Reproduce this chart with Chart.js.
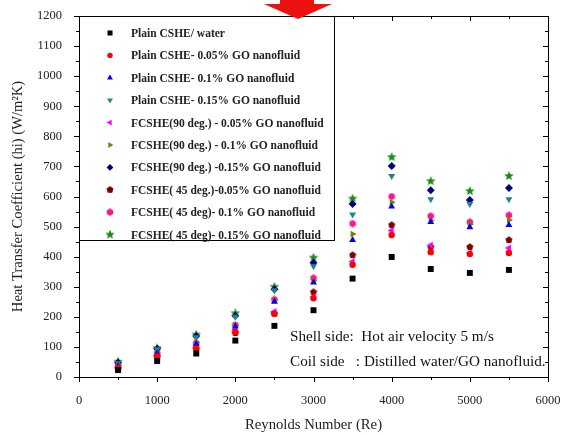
<!DOCTYPE html>
<html lang="en">
<head>
  <meta charset="UTF-8" />
  <title>Heat Transfer Coefficient vs Reynolds Number</title>
  <script src="https://cdn.jsdelivr.net/npm/chart.js"></script>
  <style>
    html, body { margin: 0; padding: 0; background: #fff; }
    #wrap { width: 564px; height: 435px; position: relative; }
  </style>
</head>
<body>
  <div id="wrap"><canvas id="chart" width="564" height="435"></canvas></div>

  <script>
    // Reynolds numbers (x values)
    const reynolds = [500, 1000, 1500, 2000, 2500, 3000, 3500, 4000, 4500, 5000, 5500];

    // heat transfer coefficient hi (W/m2K)
    const plainWater      = [23, 53, 78, 121, 170, 222, 327, 399, 359, 346, 356];
    const plain005        = [30, 68, 95, 150, 210, 262, 373, 472, 415, 409, 412];
    const plain01         = [36, 78, 110, 168, 250, 314, 455, 567, 515, 498, 505];
    const plain015        = [46, 92, 132, 200, 288, 368, 540, 668, 591, 575, 591];
    const fc90_005        = [32, 70, 100, 158, 218, 266, 384, 487, 438, 412, 429];
    const fc90_01         = [38, 80, 115, 172, 255, 320, 475, 581, 520, 508, 522];
    const fc90_015        = [48, 94, 136, 204, 292, 380, 575, 701, 621, 588, 628];
    const fc45_005        = [28, 66, 93, 146, 211, 282, 405, 505, 432, 432, 455];
    const fc45_01         = [40, 79, 113, 173, 258, 329, 510, 600, 535, 515, 538];
    const fc45_015        = [51, 96, 141, 212, 300, 397, 593, 731, 651, 618, 668];

    const xTicks = [0, 1000, 2000, 3000, 4000, 5000, 6000];
    const yTicks = [0, 100, 200, 300, 400, 500, 600, 700, 800, 900, 1000, 1100, 1200];

    const serif = "'Liberation Serif', 'DejaVu Serif', serif";

    // small canvas markers for shapes chart.js doesn't have
    function starMarker(color, size) {
      const c = document.createElement('canvas');
      c.width = c.height = size;
      const g = c.getContext('2d');
      const cx = size / 2, cy = size / 2, ro = size / 2, ri = ro * 0.45;
      g.beginPath();
      for (let i = 0; i < 10; i++) {
        const r = i % 2 ? ri : ro;
        const a = -Math.PI / 2 + i * Math.PI / 5;
        g.lineTo(cx + r * Math.cos(a), cy + r * Math.sin(a));
      }
      g.closePath();
      g.fillStyle = color;
      g.fill();
      return c;
    }

    function polyMarker(color, size, sides) {
      const c = document.createElement('canvas');
      c.width = c.height = size;
      const g = c.getContext('2d');
      const cx = size / 2, cy = size / 2, r = size / 2 - 0.3;
      g.beginPath();
      for (let i = 0; i < sides; i++) {
        const a = -Math.PI / 2 + i * 2 * Math.PI / sides;
        g.lineTo(cx + r * Math.cos(a), cy + r * Math.sin(a));
      }
      g.closePath();
      g.fillStyle = color;
      g.fill();
      return c;
    }

    function series(label, values, color, style, radius, rotation) {
      return {
        label: label,
        data: reynolds.map((x, i) => ({ x: x, y: values[i] })),
        showLine: false,
        backgroundColor: color,
        borderColor: color,
        borderWidth: 0,
        pointStyle: style,
        pointRadius: radius,
        pointRotation: rotation || 0,
        pointHoverRadius: radius
      };
    }

    const datasets = [
      series('Plain CSHE/ water', plainWater, '#000000', 'rect', 4.2),
      series('Plain CSHE- 0.05% GO nanofluid', plain005, '#ff0000', 'circle', 3.2),
      series('Plain CSHE- 0.1% GO nanofluid', plain01, '#0000ff', 'triangle', 4),
      series('Plain CSHE- 0.15% GO nanofluid', plain015, '#1f8585', 'triangle', 4, 180),
      series('FCSHE(90 deg.) - 0.05% GO nanofluid', fc90_005, '#ff00ff', 'triangle', 4, 270),
      series('FCSHE(90 deg.) - 0.1% GO nanofluid', fc90_01, '#808000', 'triangle', 4, 90),
      series('FCSHE(90 deg.) -0.15% GO nanofluid', fc90_015, '#000080', 'rectRot', 4),
      series('FCSHE( 45 deg.)-0.05% GO nanofluid', fc45_005, '#800000', polyMarker('#800000', 8, 5), 4),
      series('FCSHE( 45 deg)- 0.1% GO nanofluid', fc45_01, '#ff1493', polyMarker('#ff1493', 8, 6), 4),
      series('FCSHE( 45 deg)- 0.15% GO nanofluid', fc45_015, '#1a8c1a', starMarker('#1a8c1a', 10), 5)
    ];

    // frame, minor ticks, legend box, notes, arrow
    const decorations = {
      id: 'decorations',
      afterDatasetsDraw(chart) {
        const ctx = chart.ctx;
        const a = chart.chartArea;
        const xs = chart.scales.x, ys = chart.scales.y;
        ctx.save();
        ctx.strokeStyle = '#000';
        ctx.lineWidth = 1;

        // frame
        ctx.strokeRect(Math.round(a.left) + 0.5, Math.round(a.top) + 0.5,
          Math.round(a.right - a.left), Math.round(a.bottom - a.top));

        ctx.beginPath();
        // y ticks: outward on left, inward on right
        for (let v = 0; v <= 1200; v += 50) {
          const y = Math.round(ys.getPixelForValue(v)) + 0.5;
          const len = v % 100 === 0 ? 5 : 3;
          ctx.moveTo(a.left, y); ctx.lineTo(a.left - len, y);
          ctx.moveTo(a.right, y); ctx.lineTo(a.right - len, y);
        }
        // x ticks: outward on bottom, inward on top
        for (let v = 0; v <= 6000; v += 500) {
          const x = Math.round(xs.getPixelForValue(v)) + 0.5;
          const len = v % 1000 === 0 ? 5 : 3;
          ctx.moveTo(x, a.bottom); ctx.lineTo(x, a.bottom + len);
          ctx.moveTo(x, a.top); ctx.lineTo(x, a.top + len);
        }
        ctx.stroke();

        // legend box in the upper left of the plot
        const lx = a.left, ly = a.top, lw = 255, lh = 224;
        ctx.fillStyle = '#fff';
        ctx.fillRect(lx, ly, lw, lh);
        ctx.strokeRect(Math.round(lx) + 0.5, Math.round(ly) + 0.5, lw, lh);
        ctx.font = 'bold 11.5px ' + serif;
        ctx.textBaseline = 'middle';
        ctx.textAlign = 'left';
        chart.data.datasets.forEach((ds, i) => {
          const y = ly + 17 + i * 22.4;
          ctx.fillStyle = ds.backgroundColor;
          ctx.strokeStyle = ds.borderColor;
          Chart.helpers.drawPoint(ctx, {
            pointStyle: ds.pointStyle,
            radius: ds.pointRadius * 0.85,
            rotation: ds.pointRotation,
            borderWidth: 0
          }, lx + 31, y);
          ctx.fillStyle = '#222';
          ctx.fillText(ds.label, lx + 52, y + 1);
        });

        // notes
        ctx.fillStyle = '#111';
        ctx.font = '15.2px ' + serif;
        ctx.fillText('Shell side:  Hot air velocity 5 m/s', xs.getPixelForValue(2700), ys.getPixelForValue(133));
        ctx.fillText('Coil side   : Distilled water/GO nanofluid.', xs.getPixelForValue(2700), ys.getPixelForValue(50));

        // red arrow at the top edge
        ctx.fillStyle = '#ee1111';
        ctx.beginPath();
        ctx.moveTo(280, 0); ctx.lineTo(314, 0); ctx.lineTo(314, 4);
        ctx.lineTo(332, 4); ctx.lineTo(298, 19); ctx.lineTo(264, 4);
        ctx.lineTo(280, 4); ctx.closePath();
        ctx.fill();
        ctx.restore();
      }
    };

    new Chart(document.getElementById('chart'), {
      type: 'scatter',
      data: { datasets: datasets },
      options: {
        responsive: false,
        animation: false,
        layout: { padding: { top: 16, right: 16, left: 0, bottom: 0 } },
        plugins: {
          legend: { display: false },
          tooltip: { enabled: false }
        },
        scales: {
          x: {
            type: 'linear',
            min: 0,
            max: 6000,
            afterBuildTicks: s => { s.ticks = xTicks.map(v => ({ value: v })); },
            afterFit: s => { s.height = 58; s.paddingLeft = 0; s.paddingRight = 0; },
            grid: { display: false },
            border: { display: false },
            ticks: { color: '#222', font: { family: serif, size: 12.5 }, padding: 8, maxRotation: 0, callback: v => String(v) },
            title: { display: true, text: 'Reynolds Number (Re)', color: '#222', font: { family: serif, size: 14.7 }, padding: { top: 0, bottom: 1 } }
          },
          y: {
            type: 'linear',
            min: 0,
            max: 1200,
            afterBuildTicks: s => { s.ticks = yTicks.map(v => ({ value: v })); },
            afterFit: s => { s.width = 79; s.paddingTop = 0; s.paddingBottom = 0; },
            grid: { display: false },
            border: { display: false },
            ticks: { color: '#222', font: { family: serif, size: 12.5 }, padding: 9, callback: v => String(v) },
            title: { display: true, text: 'Heat Transfer Coefficient (hi) (W/m\u00b2K)', color: '#222', font: { family: serif, size: 14.6 }, padding: { top: 9, bottom: 2 } }
          }
        }
      },
      plugins: [decorations]
    });
  </script>
</body>
</html>
